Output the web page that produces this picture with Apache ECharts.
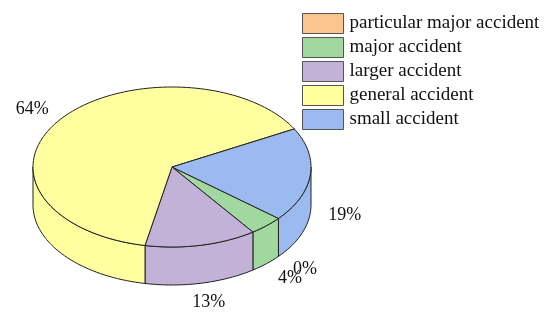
<!DOCTYPE html>
<html><head><meta charset="utf-8">
<script src="https://cdn.jsdelivr.net/npm/echarts@6/dist/echarts.min.js"></script>
<style>html,body{margin:0;padding:0;background:#fff}#c{width:550px;height:323px}</style>
</head><body><div id="c"></div>
<script>
const categories = ['particular major accident','major accident','larger accident','general accident','small accident'];
const values = [0, 4, 13, 64, 19];
const colors = ['#FAC590','#A0D8A0','#C2B2D8','#FFFFA0','#9BBAF0'];

const CX = 172, CY = 167, RX = 139, RY = 80, DEPTH = 38, START = 40;
const FONT = '"Liberation Serif", "Times New Roman", serif';
const total = values.reduce((a,b)=>a+b,0);
const starts = []; let acc = START;
values.forEach(v => { starts.push(acc); acc += v / total * 360; });
const ends = values.map((v,i)=>starts[i] + v/total*360);
const rad = d => d * Math.PI / 180;
const pt = (a, dy) => [CX + RX*Math.cos(rad(a)), CY + RY*Math.sin(rad(a)) + (dy||0)];

function arcPts(a0, a1, dy) {
  const n = Math.max(2, Math.ceil(Math.abs(a1-a0)/2));
  const p = [];
  for (let k=0;k<=n;k++) p.push(pt(a0 + (a1-a0)*k/n, dy));
  return p;
}

const stroke = {stroke:'#222', lineWidth:1};

const series = [];
categories.forEach((name, i) => {
  series.push({
    type:'custom', name, coordinateSystem:'none', z:2,
    itemStyle:{color:colors[i]},
    data:[[values[i]]],
    renderItem:function(params, api){
      const a0 = starts[i], a1 = ends[i];
      const children = [];
      if (a1 > a0) {
        const pts = [[CX,CY]].concat(arcPts(a0,a1,0));
        children.push({type:'polygon', shape:{points:pts}, style:Object.assign({fill:colors[i]}, stroke)});
      }
      const mid = (a0+a1)/2;
      const s = Math.sin(rad(mid));
      const lp = [CX + RX*1.25*Math.cos(rad(mid)), CY + RY*1.25*s + (s>0?DEPTH:0) + (s<0?2:0)];
      children.push({type:'text', x:lp[0], y:lp[1], style:{text:Math.round(values[i]/total*100)+'%', font:'18px '+FONT, fill:'#111', align:'center', verticalAlign:'middle'}});
      return {type:'group', children};
    }
  });
});
// side walls
series.push({
  type:'custom', name:'sides', coordinateSystem:'none', z:1, silent:true,
  data: values.map((v,i)=>[i]),
  renderItem:function(params, api){
    const i = params.dataIndex;
    const children = [];
    [[0,180],[360,540]].forEach(r => {
      const a0 = Math.max(starts[i], r[0]), a1 = Math.min(ends[i], r[1]);
      if (a1 >= a0 && ends[i] > starts[i] || (ends[i]===starts[i] && starts[i]>=r[0] && starts[i]<=r[1])) {
        const top = arcPts(a0,a1,0);
        const bot = arcPts(a1,a0,DEPTH);
        children.push({type:'polygon', shape:{points:top.concat(bot)}, style:Object.assign({fill:colors[i]}, stroke)});
      }
    });
    return {type:'group', children};
  }
});

const chart = echarts.init(document.getElementById('c'));
chart.setOption({
  backgroundColor:'#fff',
  animation:false,
  legend:{
    data:categories, orient:'vertical', left:302, top:13, padding:0,
    itemWidth:41, itemHeight:20, itemGap:3,
    icon:'rect',
    itemStyle:{borderColor:'#555', borderWidth:1},
    textStyle:{fontFamily:FONT, fontSize:19, color:'#111', padding:[0,0,0,1]},
    selectedMode:false
  },
  series
});
</script></body></html>
